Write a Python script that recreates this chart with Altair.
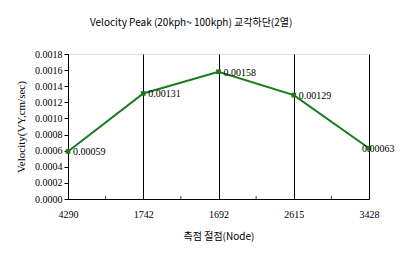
import altair as alt
import pandas as pd

nodes = ["4290", "1742", "1692", "2615", "3428"]
values = [0.00059, 0.00131, 0.00158, 0.00129, 0.00063]
labels = ["0.00059", "0.00131", "0.00158", "0.00129", "0.00063"]
y_ticks = [0.0, 0.0002, 0.0004, 0.0006, 0.0008, 0.001, 0.0012, 0.0014, 0.0016, 0.0018]
minor_ticks = [0.5, 1.5, 2.5, 3.5]

df = pd.DataFrame({"idx": list(range(len(nodes))), "node": nodes, "v": values, "lab": labels})
mt = pd.DataFrame({"idx": minor_ticks})

label_expr = "[" + ",".join('"%s"' % n for n in nodes) + "][datum.value]"

x_scale = alt.Scale(domain=[0, 4], nice=False, zero=False)
y_scale = alt.Scale(domain=[0, 0.0018], nice=False)

x_axis = alt.Axis(values=[0, 1, 2, 3, 4], labelExpr=label_expr, title="측점 절점(Node)",
                  grid=True, gridColor="black", gridWidth=1, ticks=False,
                  labelFont="Liberation Serif", labelFontSize=10, labelColor="black",
                  labelPadding=10, titleFont="Noto Sans CJK KR", titleFontSize=10,
                  titleFontWeight="normal", titleColor="black", titlePadding=12,
                  domainColor="black", labelFlush=False, labelOverlap=False)
y_axis = alt.Axis(values=y_ticks, format=".4f",
                  title="Velocity(VY,cm/sec)", grid=False, tickColor="black",
                  tickSize=4, labelFont="Liberation Serif", labelFontSize=10,
                  labelColor="black", titleFont="Liberation Serif", titleFontSize=11,
                  titleFontWeight="normal", titleColor="black", titlePadding=8,
                  domainColor="black", labelOverlap=False, labelBound=False)

X = alt.X("idx:Q", scale=x_scale, axis=x_axis)
Y = alt.Y("v:Q", scale=y_scale, axis=y_axis)

base = alt.Chart(df)

line = base.mark_line(color="#1b7a1b", strokeWidth=2).encode(x=X, y=Y)

pts = base.mark_square(color="#1b7a1b", size=22, opacity=1).encode(x=X, y=Y)

txt = base.transform_filter("datum.idx < 4").mark_text(
    align="left", dx=5, dy=1, font="Liberation Serif", fontSize=10, color="black"
).encode(x=X, y=Y, text="lab:N")

txt_last = base.transform_filter("datum.idx == 4").mark_text(
    align="left", dx=-7, dy=1, font="Liberation Serif", fontSize=10, color="black"
).encode(x=X, y=Y, text="lab:N")

minor = alt.Chart(mt).mark_rule(color="#444444", strokeWidth=1).encode(
    x=X, y=alt.value(145), y2=alt.value(142)
)

chart = alt.layer(line, minor, pts, txt, txt_last).properties(
    width=301, height=145,
    title=alt.TitleParams("Velocity Peak (20kph~ 100kph) 교각하단(2열)",
                          font="Noto Sans CJK KR", fontSize=10, fontWeight="normal",
                          color="black", anchor="start", frame="group", offset=21, dx=22),
    autosize=alt.AutoSizeParams(type="none"),
    padding={"left": 68, "top": 54, "right": 34, "bottom": 63},
).configure_view(stroke="black", strokeWidth=1).configure(background="white")

chart.save("out.html", embed_options={"renderer": "svg", "actions": False})
